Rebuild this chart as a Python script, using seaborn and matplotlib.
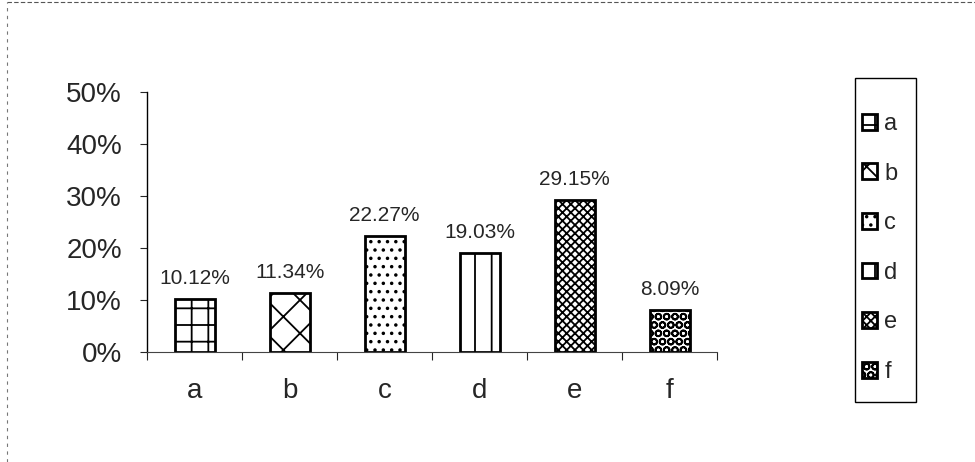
import seaborn as sns
import matplotlib.pyplot as plt
import pandas as pd
from matplotlib.patches import Patch, Rectangle
from matplotlib.lines import Line2D

categories = ["a", "b", "c", "d", "e", "f"]
values = [10.12, 11.34, 22.27, 19.03, 29.15, 8.09]
value_labels = ["10.12%", "11.34%", "22.27%", "19.03%", "29.15%", "8.09%"]
yticks = [0, 10, 20, 30, 40, 50]
ytick_labels = ["0%", "10%", "20%", "30%", "40%", "50%"]
hatches = ["+", "x", "..", "|", "xxxx", "OO"]

sns.set_style("white")
plt.rcParams["font.family"] = ["Liberation Sans", "DejaVu Sans"]
plt.rcParams["hatch.linewidth"] = 1.3

df = pd.DataFrame({"cat": categories, "val": values})

fig = plt.figure(figsize=(9.75, 4.62), dpi=100)
ax = fig.add_axes([0.1508, 0.238, 0.585, 0.563])

sns.barplot(data=df, x="cat", y="val", hue="cat", palette=["white"] * 6,
            legend=False, width=0.42, edgecolor="black", linewidth=2, ax=ax)

for bar, h in zip(ax.patches, hatches):
    bar.set_hatch(h)

for cont, lab in zip(ax.containers, value_labels):
    ax.bar_label(cont, labels=[lab], padding=8, fontsize=15)

ax.set_ylim(0, 50)
ax.set_xlim(-0.5, 5.5)
ax.set_yticks(yticks)
ax.set_yticklabels(ytick_labels, fontsize=20)
ax.set_xticks(range(len(categories)))
ax.set_xticklabels(categories, fontsize=20)
ax.set_xticks([i - 0.5 for i in range(len(categories) + 1)], minor=True)
ax.tick_params(axis="x", which="major", length=0, pad=19)
ax.tick_params(axis="x", which="minor", length=6, width=0.8, direction="out", bottom=True)
ax.tick_params(axis="y", which="major", length=5, width=0.8, direction="out", left=True, pad=13)
ax.set_xlabel("")
ax.set_ylabel("")

for s in ["top", "right"]:
    ax.spines[s].set_visible(False)
ax.spines["left"].set_color("black")
ax.spines["left"].set_linewidth(1)
ax.spines["bottom"].set_color("#444444")
ax.spines["bottom"].set_linewidth(0.8)

# legend box drawn separately so it can be narrow and tall like the original
fig.add_artist(Rectangle((855 / 975, 1 - 402 / 462), 61 / 975, 324 / 462,
                         transform=fig.transFigure, facecolor="white",
                         edgecolor="black", linewidth=1, zorder=1))
handles = [Patch(facecolor="white", edgecolor="black", hatch=h, linewidth=2, label=c)
           for h, c in zip(hatches, categories)]
leg = fig.legend(handles=handles, loc="upper left", bbox_to_anchor=(862 / 975, 1 - 113 / 462),
                 fontsize=17, frameon=False, handlelength=0.65,
                 handleheight=0.65, handletextpad=0.3, labelspacing=1.17,
                 borderpad=0, borderaxespad=0)
leg.set_zorder(2)

# scanned page border
fig.add_artist(Line2D([0.007, 1.0], [0.996, 0.996], color="#555555", lw=0.8, ls=(0, (4, 2))))
fig.add_artist(Line2D([0.007, 0.007], [0.0, 0.996], color="#777777", lw=0.8, ls=(0, (3, 4))))

fig.savefig("out.png", dpi=100)
